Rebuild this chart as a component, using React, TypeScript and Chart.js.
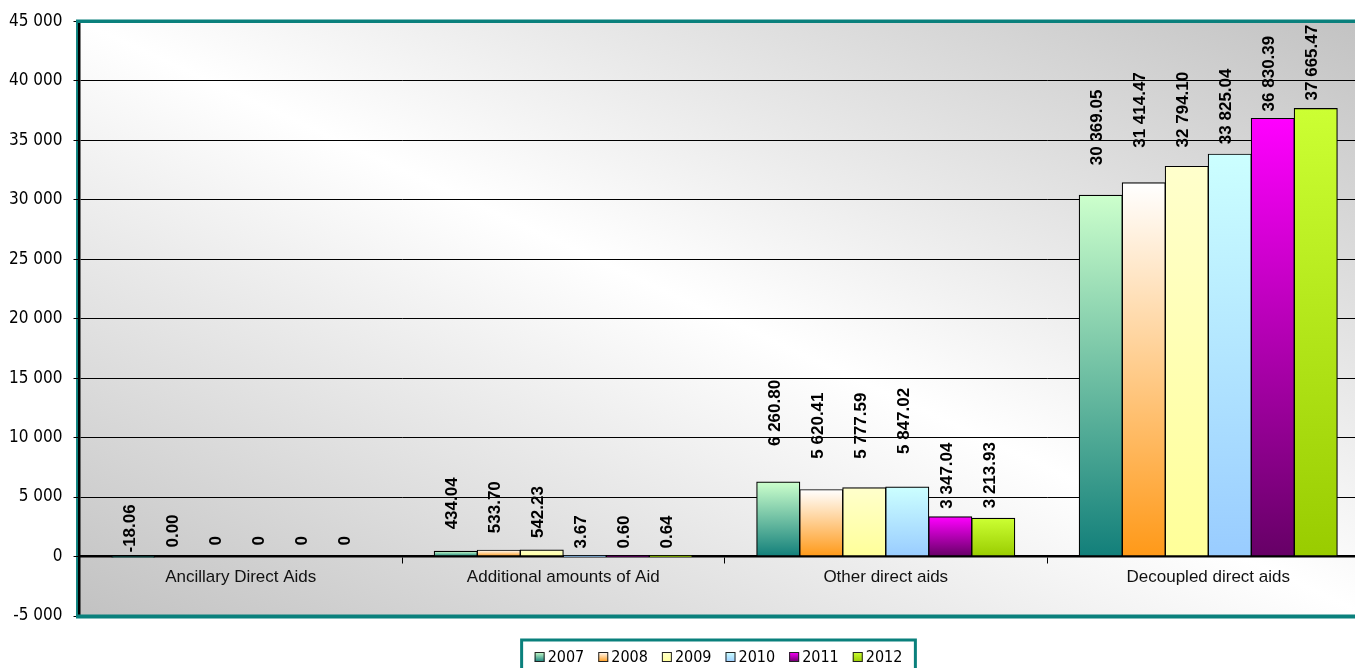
import React, { useEffect, useRef } from 'react';
import { Chart, registerables } from 'chart.js';

Chart.register(...registerables);

// ---------- data ----------
const categories = [
  'Ancillary Direct Aids',
  'Additional amounts of Aid',
  'Other direct aids',
  'Decoupled direct aids',
];
const years = ['2007', '2008', '2009', '2010', '2011', '2012'];
const values2007: (number | null)[] = [-18.06, 434.04, 6260.8, 30369.05];
const values2008: (number | null)[] = [0.0, 533.7, 5620.41, 31414.47];
const values2009: (number | null)[] = [null, 542.23, 5777.59, 32794.1];
const values2010: (number | null)[] = [null, 3.67, 5847.02, 33825.04];
const values2011: (number | null)[] = [null, 0.6, 3347.04, 36830.39];
const values2012: (number | null)[] = [null, 0.64, 3213.93, 37665.47];
const yMin = -5000;
const yMax = 45000;
const yStep = 5000;

// ---------- styles ----------
const gradTop = ['#ccffcc', '#ffffff', '#ffffcc', '#ccffff', '#ff00ff', '#ccff33'];
const gradBottom = ['#127f7a', '#ff9918', '#ffff99', '#99ccff', '#660066', '#99cc00'];
const labelGap = [
  [4, 22, 36, 30],
  [9, 17, 31, 35],
  [11, 12, 29, 19],
  [11, 8, 33, 10],
  [11, 8, 8, 7],
  [11, 8, 10, 8],
];
const TEAL = '#0a807c';
const CANVAS_W = 1380;
const CANVAS_H = 668;
const TICK_FONT = '"DejaVu Sans Condensed", "Liberation Sans", sans-serif';
const ARIAL = '"Liberation Sans", Arial, sans-serif';

const seriesValues = [values2007, values2008, values2009, values2010, values2011, values2012];

function groupThousands(s: string): string {
  return s.replace(/\B(?=(\d{3})+(?!\d))/g, ' ');
}
function fmtTick(v: number): string {
  const sign = v < 0 ? '-' : '';
  return sign + groupThousands(String(Math.abs(Math.round(v))));
}
function fmtLabel(v: number | null): string {
  if (v === null || v === undefined) return '0';
  const sign = v < 0 ? '-' : '';
  const [i, d] = Math.abs(v).toFixed(2).split('.');
  return sign + groupThousands(i) + '.' + d;
}

const backgroundPlugin = {
  id: 'plotBackground',
  beforeDraw(chart: any) {
    const { ctx, chartArea: a } = chart;
    if (!a) return;
    const W = a.right - a.left;
    const H = a.bottom - a.top;
    const cx = (a.left + a.right) / 2;
    const cy = (a.top + a.bottom) / 2;
    const len = Math.sqrt(W * W + H * H);
    const nx = H / len;
    const ny = -W / len;
    const e = (W * H) / len;
    const g = ctx.createLinearGradient(cx - e * nx, cy - e * ny, cx + e * nx, cy + e * ny);
    g.addColorStop(0, '#c2c2c2');
    g.addColorStop(0.5, '#ffffff');
    g.addColorStop(1, '#c2c2c2');
    ctx.save();
    ctx.fillStyle = g;
    ctx.fillRect(a.left, a.top, W, H);
    ctx.strokeStyle = TEAL;
    ctx.lineWidth = 2.5;
    ctx.beginPath();
    ctx.moveTo(a.left - 2.2, a.top - 1);
    ctx.lineTo(a.left - 2.2, a.bottom + 2);
    ctx.stroke();
    ctx.restore();
  },
  afterDraw(chart: any) {
    const { ctx, chartArea: a } = chart;
    if (!a) return;
    ctx.save();
    ctx.strokeStyle = TEAL;
    ctx.lineWidth = 3.5;
    ctx.beginPath();
    ctx.moveTo(a.left - 3.5, a.top);
    ctx.lineTo(a.right + 2, a.top);
    ctx.stroke();
    ctx.lineWidth = 4;
    ctx.beginPath();
    ctx.moveTo(a.left - 3.5, a.bottom + 0.5);
    ctx.lineTo(a.right + 2, a.bottom + 0.5);
    ctx.stroke();
    ctx.restore();
  },
};

const dataLabelPlugin = {
  id: 'rotatedLabels',
  afterDatasetsDraw(chart: any) {
    const { ctx } = chart;
    const yScale = chart.scales.y;
    const base = yScale.getPixelForValue(0);
    ctx.save();
    ctx.fillStyle = '#000';
    ctx.font = `bold 17px ${ARIAL}`;
    ctx.textAlign = 'left';
    ctx.textBaseline = 'middle';
    chart.data.datasets.forEach((ds: any, di: number) => {
      const meta = chart.getDatasetMeta(di);
      meta.data.forEach((el: any, i: number) => {
        const v = ds.data[i];
        const top = v !== null && v > 0 ? yScale.getPixelForValue(v) : base;
        const start = top - labelGap[di][i];
        ctx.save();
        ctx.translate(el.x - 3, start);
        ctx.rotate(-Math.PI / 2);
        ctx.fillText(fmtLabel(v), 0, 0);
        ctx.restore();
      });
    });
    ctx.restore();
  },
};

const legendPlugin = {
  id: 'boxedLegend',
  afterDraw(chart: any) {
    const { ctx, chartArea: a } = chart;
    if (!a) return;
    ctx.save();
    ctx.font = `16px ${TICK_FONT}`;
    const box = 10;
    const gapBoxText = 3;
    const itemGap = 14;
    const widths = chart.data.datasets.map((ds: any) => box + gapBoxText + ctx.measureText(ds.label).width);
    const total = widths.reduce((s: number, w: number) => s + w, 0) + itemGap * (widths.length - 1);
    const padX = 13;
    const boxW = total + padX * 2;
    const center = (a.left + a.right) / 2 - 6;
    const left = center - boxW / 2;
    const top = 640;
    ctx.strokeStyle = TEAL;
    ctx.lineWidth = 3;
    ctx.fillStyle = '#ffffff';
    ctx.fillRect(left, top, boxW, 34);
    ctx.strokeRect(left, top, boxW, 34);
    let x = left + padX;
    const cy = 657;
    chart.data.datasets.forEach((ds: any, di: number) => {
      const g = ctx.createLinearGradient(0, cy - box / 2, 0, cy + box / 2);
      g.addColorStop(0, gradTop[di]);
      g.addColorStop(1, gradBottom[di]);
      ctx.fillStyle = g;
      ctx.fillRect(x, cy - box / 2, box, box);
      ctx.strokeStyle = '#222';
      ctx.lineWidth = 1;
      ctx.strokeRect(x + 0.5, cy - box / 2 + 0.5, box - 1, box - 1);
      ctx.fillStyle = '#000';
      ctx.textAlign = 'left';
      ctx.textBaseline = 'middle';
      ctx.fillText(ds.label, x + box + gapBoxText, cy + 1);
      x += widths[di] + itemGap;
    });
    ctx.restore();
  },
};

function barGradient(di: number) {
  return (c: any) => {
    const chart = c.chart;
    if (!chart.chartArea || c.type !== 'data') return gradBottom[di];
    const v = c.raw;
    if (v === null || v === undefined) return gradBottom[di];
    const y = chart.scales.y;
    const top = y.getPixelForValue(Math.max(v, 0));
    const bot = y.getPixelForValue(Math.min(v, 0));
    if (Math.abs(bot - top) < 1) return gradBottom[di];
    const g = chart.ctx.createLinearGradient(0, top, 0, bot);
    g.addColorStop(0, gradTop[di]);
    g.addColorStop(1, gradBottom[di]);
    return g;
  };
}

export default function App() {
  const canvasRef = useRef<HTMLCanvasElement | null>(null);

  useEffect(() => {
    if (!canvasRef.current) return;
    const chart = new Chart(canvasRef.current, {
      type: 'bar',
      data: {
        labels: categories,
        datasets: years.map((yr, di) => ({
          label: yr,
          data: seriesValues[di],
          backgroundColor: barGradient(di),
          borderColor: '#000000',
          borderWidth: 1.2,
          borderSkipped: false,
          inflateAmount: 0.5,
          categoryPercentage: 0.8,
          barPercentage: 1.0,
        })),
      },
      options: {
        responsive: false,
        animation: false,
        devicePixelRatio: 1,
        layout: { padding: { left: 0, right: CANVAS_W - 1369.5, top: 19, bottom: CANVAS_H - 616 } },
        plugins: {
          legend: { display: false },
          tooltip: { enabled: false },
          title: { display: false },
        },
        scales: {
          x: {
            type: 'category',
            position: { y: 0 } as any,
            offset: true,
            grid: {
              offset: true,
              drawOnChartArea: false,
              drawTicks: true,
              tickLength: 6,
              color: '#000',
              lineWidth: 1,
            },
            border: { display: true, color: '#000', width: 2.5 },
            ticks: {
              color: '#111',
              padding: 5,
              maxRotation: 0,
              autoSkip: false,
              font: { family: ARIAL, size: 17 },
            },
          },
          y: {
            type: 'linear',
            position: 'left',
            min: yMin,
            max: yMax,
            afterFit: (scale: any) => {
              scale.width = 79.5;
            },
            grid: {
              color: '#000',
              lineWidth: 1,
              drawTicks: true,
              tickLength: 6,
            },
            border: { display: true, color: '#000', width: 2.5 },
            ticks: {
              stepSize: yStep,
              color: '#000',
              padding: 11,
              font: { family: TICK_FONT, size: 17 },
              callback: (v: any) => fmtTick(Number(v)),
            },
          },
        },
      },
      plugins: [backgroundPlugin, dataLabelPlugin, legendPlugin],
    });
    return () => chart.destroy();
  }, []);

  return (
    <div
      style={{
        position: 'fixed',
        left: 0,
        top: 0,
        width: 1355,
        height: 668,
        overflow: 'hidden',
        background: '#fff',
      }}
    >
      <canvas
        ref={canvasRef}
        width={CANVAS_W}
        height={CANVAS_H}
        style={{ display: 'block', width: CANVAS_W, height: CANVAS_H }}
      />
    </div>
  );
}
